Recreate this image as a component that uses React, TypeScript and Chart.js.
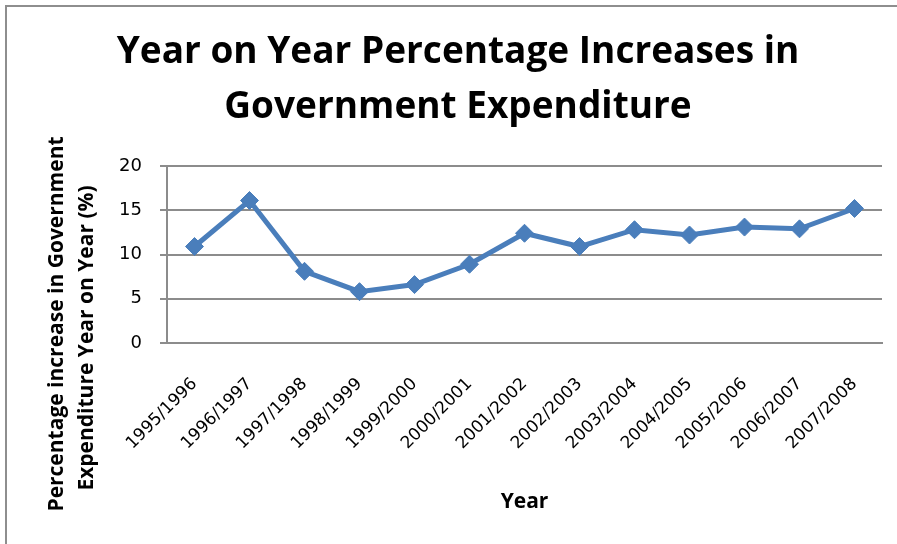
import React, { useEffect, useRef } from "react";
import { Chart, registerables } from "chart.js";

Chart.register(...registerables);

const categories = [
  "1995/1996", "1996/1997", "1997/1998", "1998/1999", "1999/2000", "2000/2001", "2001/2002",
  "2002/2003", "2003/2004", "2004/2005", "2005/2006", "2006/2007", "2007/2008",
];
const increases = [10.9, 16.1, 8.1, 5.8, 6.6, 8.9, 12.4, 10.9, 12.8, 12.2, 13.1, 12.9, 15.2];
const titleLines = ["Year on Year Percentage Increases in", "Government Expenditure"];
const yTitleLines = ["Percentage increase in Government", "Expenditure Year on Year (%)"];
const xTitle = "Year";

const LINE = "#4a7ebb";
const GRID = "#8c8c8c";

const yTitlePlugin = {
  id: "yTitle",
  afterDraw(chart: any) {
    const ctx = chart.ctx;
    ctx.save();
    ctx.fillStyle = "#000";
    ctx.font = '700 21px "Open Sans"';
    ctx.textAlign = "center";
    ctx.textBaseline = "middle";
    const spots = [
      [57, 324],
      [87, 338],
    ];
    yTitleLines.forEach((t, i) => {
      ctx.save();
      ctx.translate(spots[i][0], spots[i][1]);
      ctx.rotate(-Math.PI / 2);
      ctx.fillText(t, 0, 0);
      ctx.restore();
    });
    ctx.restore();
  },
};

export default function App() {
  const ref = useRef<HTMLCanvasElement | null>(null);
  useEffect(() => {
    if (!ref.current) return;
    const chart = new Chart(ref.current, {
      type: "line",
      data: {
        labels: categories,
        datasets: [
          {
            data: increases,
            borderColor: LINE,
            backgroundColor: LINE,
            borderWidth: 5,
            pointStyle: "rectRot",
            pointRadius: 9,
            pointHoverRadius: 9,
            pointBackgroundColor: LINE,
            pointBorderColor: LINE,
            pointBorderWidth: 1,
            tension: 0,
          },
        ],
      },
      options: {
        responsive: false,
        animation: false,
        events: [],
        layout: { padding: { left: 34, right: 15, top: 0, bottom: 0 } },
        plugins: {
          legend: { display: false },
          tooltip: { enabled: false },
          title: {
            display: true,
            text: titleLines,
            color: "#000",
            font: { family: "Open Sans", weight: "bold", size: 37, lineHeight: 55 / 37 },
            padding: { top: 25, bottom: 31 },
          },
        },
        scales: {
          x: {
            offset: true,
            grid: { display: false, drawTicks: false },
            border: { display: true, color: GRID, width: 2 },
            ticks: {
              autoSkip: false,
              minRotation: 45,
              maxRotation: 45,
              padding: 31,
              color: "#000",
              font: { family: "DejaVu Sans", size: 17 },
            },
            title: {
              display: true,
              text: xTitle,
              color: "#000",
              font: { family: "Open Sans", weight: "bold", size: 21 },
              padding: { top: 0, bottom: 29 },
            },
            afterFit: (s: any) => {
              s.height = 201;
              s.paddingLeft = 0;
              s.paddingRight = 0;
            },
          },
          y: {
            min: 0,
            max: 20,
            ticks: {
              stepSize: 5,
              padding: 18,
              color: "#000",
              font: { family: "DejaVu Sans", size: 18 },
            },
            grid: { color: GRID, lineWidth: 2, tickLength: 7, drawTicks: true },
            border: { display: true, color: GRID, width: 2 },
            afterFit: (s: any) => {
              s.width = 133;
            },
          },
        },
      },
      plugins: [yTitlePlugin],
    });
    return () => chart.destroy();
  }, []);

  return (
    <div style={{ position: "fixed", left: 0, top: 0, width: 897, height: 544, overflow: "hidden", background: "#fff" }}>
      <div
        style={{
          position: "absolute",
          left: 5,
          top: 5,
          width: 1000,
          height: 1000,
          borderLeft: "2px solid #8e8e8e",
          borderTop: "2px solid #8e8e8e",
        }}
      />
      <canvas ref={ref} width={897} height={544} style={{ position: "absolute", left: 0, top: 0, display: "block" }} />
    </div>
  );
}
